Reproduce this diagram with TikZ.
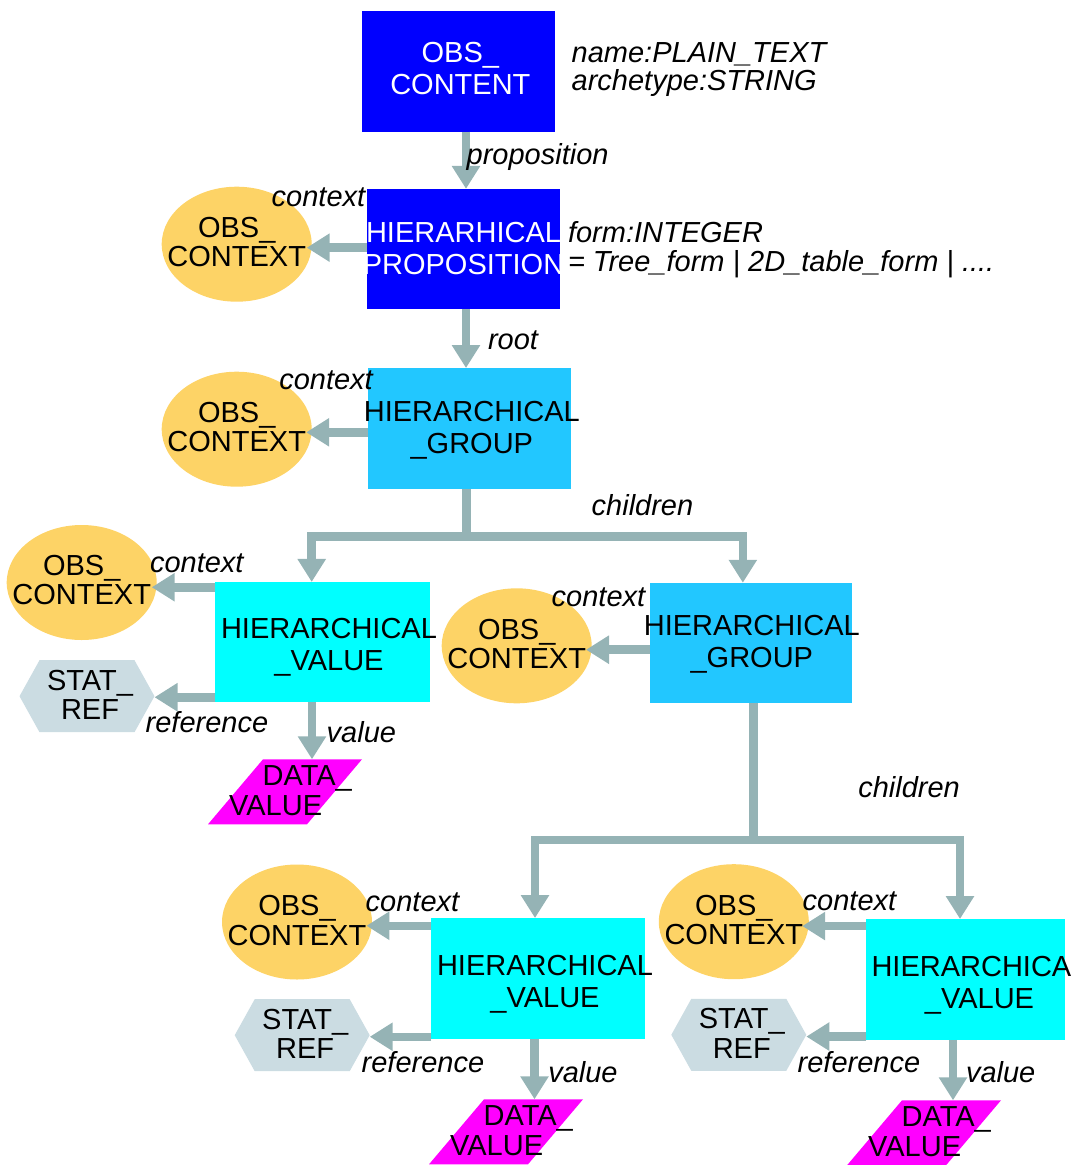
\documentclass[tikz,border=0pt]{standalone}
\usepackage{fontspec}
\setmainfont{Liberation Sans}
\usetikzlibrary{arrows.meta,shapes.geometric,calc,backgrounds}

\definecolor{propblue}{RGB}{0,0,255}
\definecolor{groupblue}{RGB}{34,199,255}
\definecolor{valuecyan}{RGB}{0,255,255}
\definecolor{ctxyellow}{RGB}{253,211,102}
\definecolor{statgray}{RGB}{203,220,226}
\definecolor{datamag}{RGB}{255,0,255}
\definecolor{linkgray}{RGB}{149,179,181}

\begin{document}
\begin{tikzpicture}[x=1pt,y=-1pt,
  every node/.style={inner sep=0pt, outer sep=0pt},
  lbl/.style={font=\fontsize{29}{32}\selectfont, align=center},
  lblsm/.style={font=\fontsize{29}{29.4}\selectfont, align=center},
  classbox/.style={rectangle, minimum height=120.5pt},
  ctxnode/.style={ellipse, fill=ctxyellow, minimum width=150pt, minimum height=115pt},
  statnode/.style={rectangle, minimum width=135pt, minimum height=72pt},
  datanode/.style={rectangle, minimum width=154pt, minimum height=65pt},
  datatext/.style={font=\fontsize{29}{29.4}\selectfont, align=left},
  role/.style={font=\itshape\fontsize{29}{29}\selectfont, anchor=base west},
  note/.style={align=left, anchor=north west},
  conn/.style={draw=linkgray, line width=8.5pt, line join=miter,
               -{Triangle[length=23pt,width=27pt]}},
]
\useasboundingbox (0,0) rectangle (1073,1165);

% ---------- class boxes ----------
\node[classbox, fill=propblue, minimum width=193.3pt,
  label={[lbl, text=white, xshift=2pt, yshift=2.5pt]center:{OBS\_\\CONTENT}}]
  (content) at (458.35,71.35) {};
\node[classbox, fill=propblue, minimum width=193pt,
  label={[lbl, text=white, yshift=0.5pt]center:{HIERARHICAL\\PROPOSITION}}]
  (prop) at (463.5,249.15) {};
\node[classbox, fill=groupblue, minimum width=202.4pt,
  label={[lbl, xshift=2.3pt, yshift=-1.5pt]center:{HIERARCHICAL\\\_GROUP}}]
  (grp1) at (469.5,428.3) {};
\node[classbox, fill=valuecyan, minimum width=215pt,
  label={[lbl, xshift=6.5pt, yshift=-5.5pt]center:{HIERARCHICAL\\\_VALUE}}]
  (val1) at (322.5,642.2) {};
\node[classbox, fill=groupblue, minimum width=201.7pt,
  label={[lbl, xshift=1pt, yshift=-1.5pt]center:{HIERARCHICAL\\\_GROUP}}]
  (grp2) at (750.85,643) {};
\node[classbox, fill=valuecyan, minimum width=214pt,
  label={[lbl, xshift=7pt, yshift=-5.5pt]center:{HIERARCHICAL\\\_VALUE}}]
  (val2) at (538,978.3) {};
\node[classbox, fill=valuecyan, minimum width=199pt,
  label={[lbl, xshift=14pt, yshift=-5.5pt]center:{HIERARCHICAL\\\_VALUE}}]
  (val3) at (965.5,979.3) {};

% ---------- context ellipses ----------
\node[ctxnode, label={[lblsm, yshift=2.1pt]center:{OBS\_\\CONTEXT}}] (ctx1) at (236.7,244.2) {};
\node[ctxnode, label={[lblsm, yshift=2.1pt]center:{OBS\_\\CONTEXT}}] (ctx2) at (236.7,429.2) {};
\node[ctxnode, label={[lblsm, yshift=2.4pt]center:{OBS\_\\CONTEXT}}] (ctx3) at (81.7,582.5) {};
\node[ctxnode, label={[lblsm, yshift=1.5pt]center:{OBS\_\\CONTEXT}}] (ctx4) at (516.7,645.8) {};
\node[ctxnode, label={[lblsm, yshift=1.6pt]center:{OBS\_\\CONTEXT}}] (ctx5) at (297,922) {};
\node[ctxnode, label={[lblsm, yshift=1.9pt]center:{OBS\_\\CONTEXT}}] (ctx6) at (733.8,921.7) {};

% ---------- STAT_REF hexagons ----------
\node[statnode, label={[lblsm, xshift=3pt, yshift=1.4pt]center:{STAT\_\\REF}}] (stat1) at (87,696.2) {};
\node[statnode, label={[lblsm, xshift=3pt, yshift=1.4pt]center:{STAT\_\\REF}}] (stat2) at (302.2,1035.2) {};
\node[statnode, label={[lblsm, xshift=3pt, yshift=1.4pt]center:{STAT\_\\REF}}] (stat3) at (738.8,1034.8) {};

% ---------- DATA_VALUE parallelograms ----------
\node[datanode, label={[datatext, xshift=5.5pt, yshift=1.2pt]center:{\hspace*{33.5pt}DATA\_\\VALUE}}] (data1) at (285,791.8) {};
\node[datanode, label={[datatext, xshift=5.5pt, yshift=1.2pt]center:{\hspace*{33.5pt}DATA\_\\VALUE}}] (data2) at (506,1131.8) {};
\node[datanode, label={[datatext, xshift=5.5pt, yshift=1.2pt]center:{\hspace*{33.5pt}DATA\_\\VALUE}}] (data3) at (924,1132.8) {};

\begin{scope}[on background layer]
  \foreach \s in {stat1,stat2,stat3}
    \fill[statgray] (\s.west) -- ([xshift=20pt]\s.north west) -- ([xshift=-20pt]\s.north east)
      -- (\s.east) -- ([xshift=-20pt]\s.south east) -- ([xshift=20pt]\s.south west) -- cycle;
  \foreach \d in {data1,data2,data3}
    \fill[datamag] (\d.south west) -- ([xshift=55pt]\d.north west) -- (\d.north east)
      -- ([xshift=-55pt]\d.south east) -- cycle;
\end{scope}

% ---------- attribute notes ----------
\node[note, font=\itshape\fontsize{29}{27.7}\selectfont] (contentattr) at (571.7,42.5)
  {name:PLAIN\_TEXT\\archetype:STRING};
\node[note, font=\itshape\fontsize{29}{28.8}\selectfont] (propattr) at (568,221.5)
  {form:INTEGER\\= Tree\_form | 2D\_table\_form | ....};

% ---------- vertical links ----------
\coordinate (propIn) at ([xshift=2.5pt]prop.north);
\draw[conn] (content.south -| propIn) -- (propIn);
\coordinate (grp1In) at ([xshift=-3.5pt]grp1.north);
\draw[conn] (prop.south -| grp1In) -- (grp1In);

% ---------- children trees ----------
\draw[conn] ([xshift=-2.8pt]grp1.south) -- ++(0,47.7) -| ([xshift=-10.8pt]val1.north);
\draw[conn] ([xshift=-2.8pt]grp1.south) -- ++(0,47.7) -| ([xshift=-8pt]grp2.north);
\draw[conn] ([xshift=2.7pt]grp2.south) -- ++(0,136.7) -| ([xshift=-3pt]val2.north);
\draw[conn] ([xshift=2.7pt]grp2.south) -- ++(0,136.7) -| ([xshift=-5.5pt]val3.north);

% ---------- context links ----------
\draw[conn] ($(prop.west)+(0,-1.5)$) -- ($(prop.west -| ctx1.east)+(-5,-1.5)$);
\draw[conn] ($(grp1.west)+(0,4)$) -- ($(grp1.west -| ctx2.east)+(-5.5,4)$);
\draw[conn] ($(val1.north west)+(0,5.3)$) -- ($(val1.north west -| ctx3.east)+(-5,5.3)$);
\draw[conn] ($(grp2.west)+(0,6.7)$) -- ($(grp2.west -| ctx4.east)+(-5.7,6.7)$);
\draw[conn] ($(val2.north west)+(0,7.7)$) -- ($(val2.north west -| ctx5.east)+(-5.6,7.7)$);
\draw[conn] ($(val3.north west)+(0,7)$) -- ($(val3.north west -| ctx6.east)+(-6.6,7)$);

% ---------- reference links ----------
\draw[conn] ($(val1.south west)+(0,-5.2)$) -- ($(val1.south west -| stat1.east)+(0,-5.2)$);
\draw[conn] ($(val2.south west)+(0,-1.8)$) -- ($(val2.south west -| stat2.east)+(0,-1.8)$);
\draw[conn] ($(val3.south west)+(0,-3)$) -- ($(val3.south west -| stat3.east)+(0,-3)$);

% ---------- value links ----------
\coordinate (data1In) at ([xshift=27pt]data1.north);
\coordinate (data2In) at ([xshift=28.5pt]data2.north);
\coordinate (data3In) at ([xshift=29pt]data3.north);
\draw[conn] (val1.south -| data1In) -- (data1In);
\draw[conn] (val2.south -| data2In) -- (data2In);
\draw[conn] (val3.south -| data3In) -- (data3In);

% ---------- role names ----------
\node[role] (lprop)  at (466.7,164.3) {proposition};
\node[role] (lroot)  at (488,349)     {root};
\node[role] (lctx1)  at (271.7,206)   {context};
\node[role] (lctx2)  at (279.3,389.3) {context};
\node[role] (lkids1) at (591.7,515.5) {children};
\node[role] (lctx3)  at (150,572.7)   {context};
\node[role] (lref1)  at (145.7,732.7) {reference};
\node[role] (lval1)  at (326.7,742.7) {value};
\node[role] (lctx4)  at (551.7,606)   {context};
\node[role] (lkids2) at (858.3,797.7) {children};
\node[role] (lctx5)  at (365.7,911.7) {context};
\node[role] (lref2)  at (361.7,1072)  {reference};
\node[role] (lval2)  at (548.3,1082.7) {value};
\node[role] (lctx6)  at (802.7,910.3) {context};
\node[role] (lref3)  at (797.7,1072)  {reference};
\node[role] (lval3)  at (966,1082.7)  {value};

\end{tikzpicture}
\end{document}
